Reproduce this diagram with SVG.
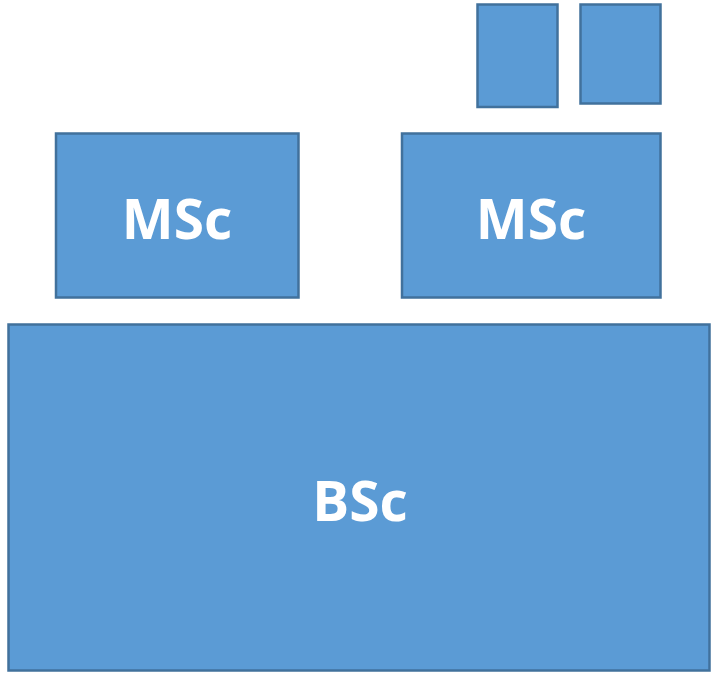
<svg xmlns="http://www.w3.org/2000/svg" width="712" height="674" viewBox="0 0 712 674">
<style>
.box{fill:#5B9BD5;stroke:#41719C;stroke-width:2.5}
.lbl{fill:#FFFFFF;font-family:"Open Sans","Liberation Sans",sans-serif;font-weight:bold;font-size:55px;text-anchor:middle}
</style>
<rect width="712" height="674" fill="#FFFFFF"/>
<g id="small1"><rect class="box" x="477.5" y="4.5" width="80" height="102.5"/></g>
<g id="small2"><rect class="box" x="580.5" y="4.5" width="80" height="99"/></g>
<g id="msc1"><rect class="box" x="56" y="133.5" width="242.5" height="164"/><text class="lbl" x="177" y="239">MSc</text></g>
<g id="msc2"><rect class="box" x="402" y="133.5" width="258.5" height="164"/><text class="lbl" x="531" y="239">MSc</text></g>
<g id="bsc"><rect class="box" x="8.5" y="324.5" width="701" height="346"/><text class="lbl" x="360" y="521">BSc</text></g>
<g id="connectors"/>
</svg>
